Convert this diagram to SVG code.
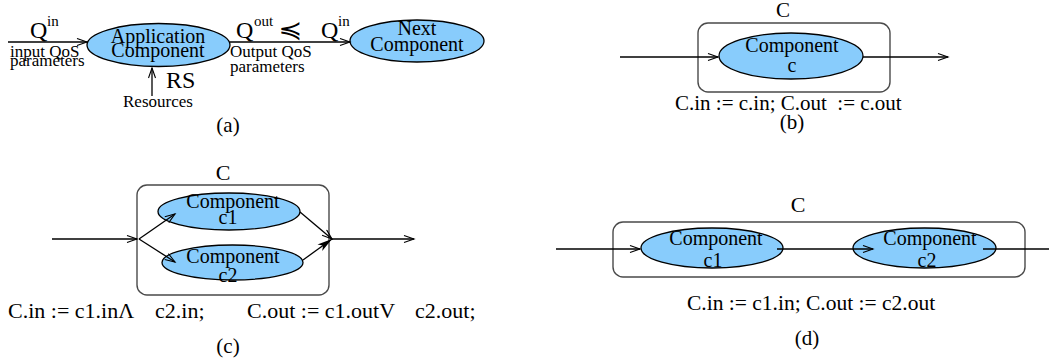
<svg xmlns="http://www.w3.org/2000/svg" width="1049" height="364" viewBox="0 0 1049 364">
  <defs>
    <style>
      .t { font-family: "Liberation Serif", "Times New Roman", serif; fill: #000; }
      .lbl { font-size: 20px; text-anchor: middle; }
      .sm { font-size: 17px; }
      .q { font-size: 24px; }
      .sup { font-size: 15px; }
      .eq { font-size: 21.5px; white-space: pre; }
      .cap { font-size: 21px; text-anchor: middle; }
      .comp { fill: #88ccfc; stroke: #000; stroke-width: 1.3; }
      .box { fill: none; stroke: #4a4a4a; stroke-width: 1.4; }
      .wire { fill: none; stroke: #000; stroke-width: 1.3; }
      .sym { font-family: "DejaVu Sans", sans-serif; font-size: 24px; text-anchor: middle; }
    </style>
    <marker id="open" markerUnits="userSpaceOnUse" markerWidth="14" markerHeight="10" refX="11" refY="4" orient="auto">
      <path d="M1,0.5 L11,4 L1,7.5" fill="none" stroke="#000" stroke-width="1.1"/>
    </marker>
    <marker id="solid" markerUnits="userSpaceOnUse" markerWidth="18" markerHeight="12" refX="15" refY="5" orient="auto">
      <path d="M0,1 L15,5 L0,9 L4,5 z" fill="#000"/>
    </marker>
  </defs>

  <!-- (a) application component with QoS parameters -->
  <g id="app-component">
    <ellipse class="comp" cx="158.5" cy="45" rx="71.5" ry="21.5"/>
    <text class="t lbl" x="158" y="43">Application</text>
    <text class="t lbl" x="158" y="57">Component</text>
  </g>
  <g id="next-component">
    <ellipse class="comp" cx="417" cy="41" rx="67" ry="21"/>
    <text class="t lbl" x="417" y="35">Next</text>
    <text class="t lbl" x="417" y="51">Component</text>
  </g>
  <g id="labels-a">
    <text class="t q" x="30" y="38">Q</text>
    <text class="t sup" x="47" y="26">in</text>
    <text class="t sm" x="10" y="57">input QoS</text>
    <text class="t sm" x="10" y="66">parameters</text>
    <text class="t q" x="236" y="38">Q</text>
    <text class="t sup" x="254" y="26">out</text>
    <text class="sym" x="290" y="38" transform="translate(290 0) scale(1.2 1) translate(-290 0)">≼</text>
    <text class="t q" x="321" y="38">Q</text>
    <text class="t sup" x="338" y="26">in</text>
    <text class="t sm" x="230" y="57">Output QoS</text>
    <text class="t sm" x="230" y="72">parameters</text>
    <text class="t q" x="166" y="88">RS</text>
    <text class="t sm" x="123" y="107">Resources</text>
    <text class="t cap" x="228" y="132">(a)</text>
  </g>

  <!-- (b) composite with a single component -->
  <g id="composite-b">
    <rect class="box" x="698" y="23" width="192" height="69" rx="10"/>
    <text class="t cap" x="783" y="17" style="font-size:21px">C</text>
  </g>
  <g id="component-c">
    <ellipse class="comp" cx="791" cy="56" rx="72" ry="23"/>
    <text class="t lbl" x="792" y="52">Component</text>
    <text class="t lbl" x="792" y="72">c</text>
  </g>
  <g id="labels-b">
    <text class="t eq" x="675" y="110" style="font-size:21px">C.in := c.in; C.out  := c.out</text>
    <text class="t cap" x="792" y="129">(b)</text>
  </g>

  <!-- (c) parallel composition -->
  <g id="composite-c">
    <rect class="box" x="137" y="185" width="192" height="110" rx="10"/>
    <text class="t cap" x="223" y="180" style="font-size:22px">C</text>
  </g>
  <g id="component-c1-par">
    <ellipse class="comp" cx="229" cy="211.5" rx="71" ry="18.5"/>
    <text class="t lbl" x="233" y="208">Component</text>
    <text class="t lbl" x="228" y="224">c1</text>
  </g>
  <g id="component-c2-par">
    <ellipse class="comp" cx="232.5" cy="262.5" rx="70.5" ry="17.5"/>
    <text class="t lbl" x="233" y="263">Component</text>
    <text class="t lbl" x="228" y="282">c2</text>
  </g>
  <g id="labels-c">
    <text class="t eq" x="8" y="318" style="font-size:22px">C.in := c1.inΛ</text>
    <text class="t eq" x="155" y="318" style="font-size:22px">c2.in;</text>
    <text class="t eq" x="247" y="318" style="font-size:22px">C.out := c1.outV</text>
    <text class="t eq" x="415" y="318" style="font-size:22px">c2.out;</text>
    <text class="t cap" x="228" y="353">(c)</text>
  </g>

  <!-- (d) sequential composition -->
  <g id="composite-d">
    <rect class="box" x="613" y="222" width="412" height="55" rx="10"/>
    <text class="t cap" x="798" y="212" style="font-size:22px">C</text>
  </g>
  <g id="component-c1-seq">
    <ellipse class="comp" cx="712" cy="248" rx="71" ry="20"/>
    <text class="t lbl" x="716" y="245">Component</text>
    <text class="t lbl" x="713" y="267">c1</text>
  </g>
  <g id="component-c2-seq">
    <ellipse class="comp" cx="924.5" cy="248" rx="71.5" ry="20"/>
    <text class="t lbl" x="930" y="245">Component</text>
    <text class="t lbl" x="927" y="267">c2</text>
  </g>
  <g id="labels-d">
    <text class="t eq" x="687" y="310">C.in := c1.in; C.out := c2.out</text>
    <text class="t cap" x="807" y="345">(d)</text>
  </g>

  <!-- connectors -->
  <g id="connectors">
    <!-- (a) -->
    <line class="wire" x1="8" y1="42" x2="87" y2="42" marker-end="url(#open)"/>
    <line class="wire" x1="230" y1="42" x2="350" y2="42" marker-end="url(#open)"/>
    <line class="wire" x1="152" y1="96" x2="152" y2="68" marker-end="url(#open)"/>
    <!-- (b) -->
    <line class="wire" x1="620" y1="57" x2="718" y2="57" marker-end="url(#open)"/>
    <line class="wire" x1="863" y1="57" x2="948" y2="57" marker-end="url(#open)"/>
    <!-- (c) -->
    <line class="wire" x1="52" y1="239" x2="137" y2="239" marker-end="url(#open)"/>
    <line class="wire" x1="139" y1="239" x2="175" y2="214" marker-end="url(#open)"/>
    <line class="wire" x1="139" y1="239" x2="175" y2="262" marker-end="url(#open)"/>
    <line class="wire" x1="300" y1="212" x2="332" y2="239" marker-end="url(#open)"/>
    <line class="wire" x1="303" y1="260" x2="332" y2="239" marker-end="url(#solid)"/>
    <line class="wire" x1="332" y1="239" x2="414" y2="239" marker-end="url(#open)"/>
    <!-- (d) -->
    <line class="wire" x1="556" y1="249" x2="640" y2="249" marker-end="url(#open)"/>
    <line class="wire" x1="777" y1="249" x2="873" y2="249" marker-end="url(#open)"/>
    <line class="wire" x1="983" y1="249" x2="1049" y2="249"/>
  </g>
</svg>
